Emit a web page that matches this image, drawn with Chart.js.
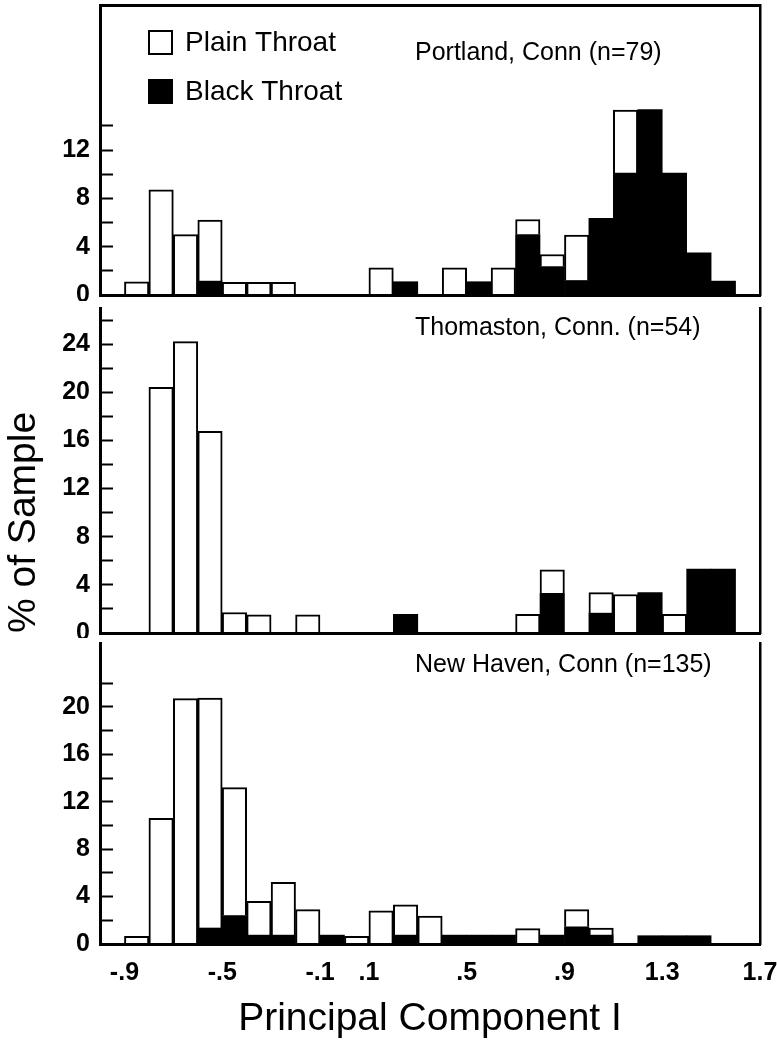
<!DOCTYPE html>
<html><head><meta charset="utf-8">
<script src="https://cdn.jsdelivr.net/npm/chart.js@4.4.1/dist/chart.umd.min.js"></script>
<style>
html,body{margin:0;padding:0;background:#fff;}
#wrap{position:relative;width:777px;height:1043px;overflow:hidden;}
.panel{position:absolute;left:0;width:777px;}
</style></head><body>
<div id="wrap">
  <div class="panel" style="top:0;height:301px"><canvas id="c1"></canvas></div>
  <div class="panel" style="top:301px;height:337px"><canvas id="c2"></canvas></div>
  <div class="panel" style="top:638px;height:405px"><canvas id="c3"></canvas></div>
</div>
<script>
// ---------- data ----------
const binCenters = [-0.95,-0.85,-0.75,-0.65,-0.55,-0.45,-0.35,-0.25,-0.15,-0.05,0.05,0.15,0.25,0.35,0.45,0.55,0.65,0.75,0.85,0.95,1.05,1.15,1.25,1.35,1.45,1.55,1.65];
const xTickValues = [-0.9,-0.5,-0.1,0.1,0.5,0.9,1.3,1.7];
const xTickLabels = ['-.9','-.5','-.1','.1','.5','.9','1.3','1.7'];
const seriesNames = ['Black Throat','Plain Throat'];
const panelTitles = ['Portland, Conn (n=79)','Thomaston, Conn. (n=54)','New Haven, Conn (n=135)'];

const portlandBlack = [0,0,0,0,1.15,0,0,0,0,0,0,0,1.1,0,0,1.1,0,5.0,2.35,1.2,6.35,10.1,15.35,10.1,3.5,1.15,0];
const portlandPlain = [0,1.1,8.7,5.0,5.05,1.05,1.05,1.05,0,0,0,2.25,0,0,2.25,0,2.25,1.25,1.0,3.75,0,5.2,0,0,0,0,0];

const thomastonBlack = [0,0,0,0,0,0,0,0,0,0,0,0,1.55,0,0,0,0,0,3.3,0,1.65,0,3.35,0,5.3,5.3,0];
const thomastonPlain = [0,0,20.4,24.2,16.75,1.7,1.5,0,1.5,0,0,0,0,0,0,0,0,1.55,1.95,0,1.7,3.2,0,1.55,0,0,0];

const newHavenBlack = [0,0,0,0,1.35,2.4,0.75,0.75,0,0.75,0,0,0.75,0,0.75,0.75,0.75,0,0.75,1.45,0.75,0,0.7,0.7,0.7,0,0];
const newHavenPlain = [0,0.65,10.6,20.7,19.4,10.8,2.85,4.45,2.9,0,0.65,2.8,2.55,2.35,0,0,0,1.3,0,1.45,0.6,0,0,0,0,0,0];

const yTicksPortland = [0,2,4,6,8,10,12,14];
const yTicksThomaston = [0,2,4,6,8,10,12,14,16,18,20,22,24,26];
const yTicksNewHaven = [0,2,4,6,8,10,12,14,16,18,20,22];

// ---------- drawing ----------
const FONT = '"Liberation Sans", Arial, Helvetica, sans-serif';

function toPoints(vals){ return binCenters.map((x,i)=>({x:x, y:vals[i]})); }

function noPad(s) { s.paddingTop = 0; s.paddingBottom = 0; s.paddingLeft = 0; s.paddingRight = 0; }

const panelPlugin = {
  id: 'panelText',
  afterDatasetsDraw(chart, args, o) {
    const {ctx, chartArea} = chart;
    ctx.save();
    ctx.fillStyle = '#000';
    ctx.textBaseline = 'middle';
    ctx.textAlign = 'left';
    ctx.font = '25px ' + FONT;
    ctx.fillText(o.title, chartArea.left + o.dx, chartArea.top + o.dy);
    if (o.legend) {
      const items = chart.data.datasets.slice().reverse();
      ctx.font = '28px ' + FONT;
      items.forEach((ds, i) => {
        const bx = chartArea.left + 48, by = chartArea.top + 25 + i * 49;
        ctx.fillStyle = ds.backgroundColor;
        ctx.fillRect(bx, by, 25, 25);
        ctx.lineWidth = 2;
        ctx.strokeStyle = '#000';
        ctx.strokeRect(bx + 1, by + 1, 23, 23);
        ctx.fillStyle = '#000';
        ctx.fillText(ds.label, bx + 37, by + 13);
      });
    }
    ctx.restore();
  }
};

function makeChart(id, o) {
  const scales = {
    x: {
      type: 'linear', min: -1.0, max: 1.7, offset: false, stacked: true, position: 'bottom',
      afterBuildTicks: s => { s.ticks = xTickValues.map(v => ({value: v})); },
      afterFit: s => { s.height = o.xHeight; noPad(s); },
      grid: {display: false, drawTicks: false},
      border: {display: true, color: '#000', width: 3, z: 1},
      ticks: {display: o.showX, autoSkip: false, maxRotation: 0, padding: 14, color: '#000',
              font: {family: FONT, size: 25, weight: 'bold'},
              callback: (v, i) => xTickLabels[i]},
      title: {display: o.showX, text: 'Principal Component I', color: '#000',
              font: {family: FONT, size: 39}, padding: {top: 0, bottom: 0}}
    },
    y: {
      type: 'linear', min: 0, max: o.yMax, stacked: true, position: 'left',
      afterBuildTicks: s => { s.ticks = o.yTicks.map(v => ({value: v})); },
      afterFit: s => { s.width = 100; noPad(s); },
      grid: {display: true, drawOnChartArea: false, drawTicks: true, tickLength: -13,
             tickWidth: 2, tickColor: '#000', color: '#000'},
      border: {display: true, color: '#000', width: 3, z: 1},
      ticks: {autoSkip: false, padding: 23, color: '#000',
              font: {family: FONT, size: 25, weight: 'bold'},
              callback: v => (v % 4 === 0 ? String(v) : '')},
      title: {display: !!o.yTitle, text: o.yTitle || '', align: 'start', color: '#000',
              font: {family: FONT, size: 39}, padding: {top: 1, bottom: 0}}
    },
    yRight: {
      type: 'linear', position: 'right',
      afterFit: s => { s.width = 17; noPad(s); },
      grid: {display: false, drawTicks: false},
      ticks: {display: false},
      border: {display: true, color: '#000', width: 2.5, z: 1}
    }
  };
  if (o.topBorder) {
    scales.xTop = {
      type: 'linear', position: 'top',
      afterFit: s => { s.height = 5; noPad(s); },
      grid: {display: false, drawTicks: false},
      ticks: {display: false},
      border: {display: true, color: '#000', width: 3, z: 1}
    };
  }
  return new Chart(document.getElementById(id), {
    type: 'bar',
    data: {
      datasets: [
        {label: seriesNames[0], data: toPoints(o.black), backgroundColor: '#000', borderWidth: 0,
         stack: 's', xAxisID: 'x', yAxisID: 'y', barPercentage: 1, categoryPercentage: 1},
        {label: seriesNames[1], data: toPoints(o.plain), backgroundColor: '#fff', borderColor: '#000', borderWidth: 2,
         stack: 's', xAxisID: 'x', yAxisID: 'y', barPercentage: 1, categoryPercentage: 1}
      ]
    },
    options: {
      responsive: true, maintainAspectRatio: false, animation: false, devicePixelRatio: 1,
      layout: {padding: {top: o.padTop, left: 0, right: 0, bottom: 0}},
      plugins: {
        legend: {display: false}, tooltip: {enabled: false},
        panelText: {title: o.title, dx: 315, dy: o.titleDy, legend: !!o.legend}
      },
      scales: scales
    },
    plugins: [panelPlugin]
  });
}

makeChart('c1', {black: portlandBlack, plain: portlandPlain, yTicks: yTicksPortland, yMax: 24,
  xHeight: 6, padTop: 0, topBorder: true, showX: false, title: panelTitles[0], titleDy: 48, legend: true});
makeChart('c2', {black: thomastonBlack, plain: thomastonPlain, yTicks: yTicksThomaston, yMax: 27,
  xHeight: 5, padTop: 7, showX: false, title: panelTitles[1], titleDy: 20, yTitle: '% of Sample'});
makeChart('c3', {black: newHavenBlack, plain: newHavenPlain, yTicks: yTicksNewHaven, yMax: 25.4,
  xHeight: 99, padTop: 5, showX: true, title: panelTitles[2], titleDy: 22});
</script>
</body></html>
